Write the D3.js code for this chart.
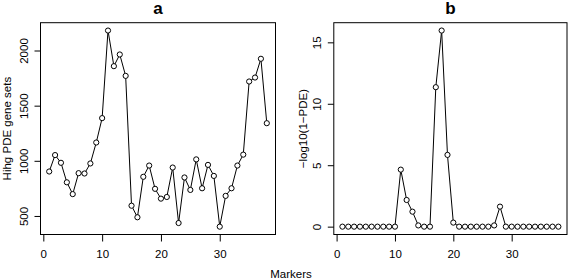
<!DOCTYPE html>
<html lang="en">
<head>
<meta charset="utf-8">
<title>PDE markers</title>
<script src="https://d3js.org/d3.v7.min.js"></script>
<style>
  body { margin: 0; background: #fff; }
  svg { display: block; font-family: "Liberation Sans", Arial, sans-serif; }
  .axis path, .axis line { stroke: #000; }
  .line { fill: none; stroke: #000; stroke-width: 1px; }
</style>
</head>
<body>
<script>
// data
const markers = d3.range(1, 39);
const hihgSets = [903, 1052, 982, 805, 698, 888, 885, 976, 1166, 1387,
                  2181, 1858, 1964, 1770, 593, 488, 855, 957, 746, 657,
                  672, 939, 436, 849, 736, 1013, 751, 963, 863, 403,
                  682, 751, 957, 1056, 1719, 1755, 1925, 1341];
const logPDE = [0, 0, 0, 0, 0, 0, 0, 0, 0, 0,
                4.64, 2.17, 1.22, 0.1, 0, 0, 11.35, 15.96, 5.84, 0.33,
                0, 0, 0, 0, 0, 0, 0.1, 1.63, 0, 0,
                0, 0, 0, 0, 0, 0, 0, 0];
const xTicks = [0, 10, 20, 30];
const yTicksA = [500, 1000, 1500, 2000];
const yTicksB = [0, 5, 10, 15];

const w = 568, h = 280;
const fs = 11.5;

const svg = d3.select("body").append("svg")
  .attr("width", w)
  .attr("height", h);

// R style 4% padding
function pad(ext) {
  const d = (ext[1] - ext[0]) * 0.04;
  return [ext[0] - d, ext[1] + d];
}

function panel(vals, left, right, title, ylab, yTicks, labOff) {
  const top = 22.7, bottom = 234.5;
  const x = d3.scaleLinear().domain(pad(d3.extent(markers))).range([left, right]);
  const y = d3.scaleLinear().domain(pad(d3.extent(vals))).range([bottom, top]);

  // box
  svg.append("rect")
    .attr("x", left).attr("y", top)
    .attr("width", right - left).attr("height", bottom - top)
    .attr("fill", "none").attr("stroke", "#000");

  const xAxis = svg.append("g")
    .attr("class", "axis")
    .attr("transform", "translate(0," + bottom + ")")
    .call(d3.axisBottom(x).tickValues(xTicks).tickFormat(d3.format("d")).tickSize(7).tickSizeOuter(0));
  xAxis.select(".domain").remove();
  xAxis.selectAll("text")
    .attr("y", 23.2).attr("dy", 0)
    .attr("font-size", fs).attr("font-family", null).attr("fill", "#000");

  const yAxis = svg.append("g")
    .attr("class", "axis")
    .attr("transform", "translate(" + left + ",0)")
    .call(d3.axisLeft(y).tickValues(yTicks).tickFormat(d3.format("d")).tickSize(6).tickSizeOuter(0));
  yAxis.select(".domain").remove();
  yAxis.selectAll("text")
    .attr("x", 0).attr("dy", 0)
    .attr("text-anchor", "middle")
    .attr("transform", "translate(-12.5,0) rotate(-90)")
    .attr("font-size", fs).attr("font-family", null).attr("fill", "#000");

  const line = d3.line()
    .x((d, i) => x(markers[i]))
    .y(d => y(d));

  svg.append("path")
    .attr("class", "line")
    .attr("d", line(vals));

  svg.append("g")
    .selectAll("circle")
    .data(vals)
    .join("circle")
    .attr("cx", (d, i) => x(markers[i]))
    .attr("cy", d => y(d))
    .attr("r", 2.6)
    .attr("fill", "#fff")
    .attr("stroke", "#000")
    .attr("stroke-width", 1);

  // title
  svg.append("text")
    .attr("x", (left + right) / 2)
    .attr("y", 14)
    .attr("text-anchor", "middle")
    .attr("font-size", 17)
    .attr("font-weight", "bold")
    .text(title);

  // y label
  svg.append("text")
    .attr("transform", "translate(" + (left - labOff) + "," + ((top + bottom) / 2) + ") rotate(-90)")
    .attr("text-anchor", "middle")
    .attr("font-size", fs)
    .text(ylab);
}

panel(hihgSets, 40.5, 275.5, "a", "Hihg PDE gene sets", yTicksA, 30);
panel(logPDE, 333.8, 567, "b", "\u2212log10(1\u2212PDE)", yTicksB, 27.3);

// x label
svg.append("text")
  .attr("x", 291)
  .attr("y", 277.7)
  .attr("text-anchor", "middle")
  .attr("font-size", fs)
  .text("Markers");
</script>
</body>
</html>
